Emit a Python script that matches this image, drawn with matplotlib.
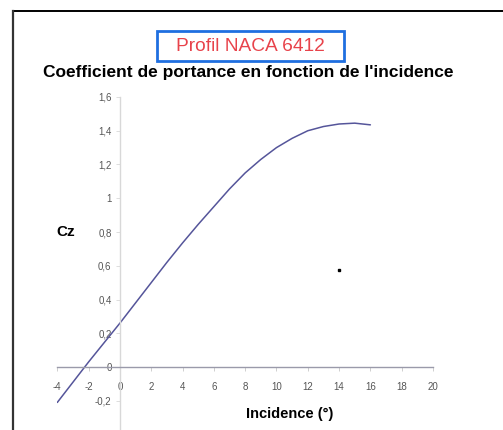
import matplotlib
matplotlib.use("Agg")
import matplotlib.pyplot as plt
from matplotlib.lines import Line2D
from matplotlib.patches import Rectangle

# Data
incidence = [-4, -3, -2, -1, 0, 1, 2, 3, 4, 5, 6, 7, 8, 9, 10, 11, 12, 13, 14, 15, 16]
cz = [-0.21, -0.09, 0.03, 0.145, 0.26, 0.38, 0.50, 0.62, 0.735, 0.845, 0.95,
      1.055, 1.15, 1.23, 1.30, 1.355, 1.40, 1.425, 1.44, 1.445, 1.435]
stray_x = [14.0]
stray_y = [0.575]
x_ticks = [-4, -2, 0, 2, 4, 6, 8, 10, 12, 14, 16, 18, 20]
y_ticks = [-0.2, 0, 0.2, 0.4, 0.6, 0.8, 1.0, 1.2, 1.4, 1.6]
y_tick_labels = ["-0,2", "0", "0,2", "0,4", "0,6", "0,8", "1", "1,2", "1,4", "1,6"]

plt.rcParams['font.family'] = ['Liberation Sans', 'DejaVu Sans']

W, H = 503, 430
fig = plt.figure(figsize=(W / 100, H / 100), dpi=100)
fig.patch.set_facecolor('white')

# Outer frame (top and left edges)
fig.add_artist(Line2D([13 / W, 1.0], [1 - 10.5 / H, 1 - 10.5 / H], transform=fig.transFigure,
                      color='black', lw=1.4))
fig.add_artist(Line2D([13 / W, 13 / W], [0, 1 - 10.5 / H], transform=fig.transFigure,
                      color='#333333', lw=1.6))

# Axes placed so that x=-4..20 spans px 57..433 and y=-0.4..1.6 spans px 434..97
left, right = 57.3 / W, 433 / W
top, bottom = 1 - 97 / H, 1 - 434.5 / H
ax = fig.add_axes([left, bottom, right - left, top - bottom])
ax.set_facecolor('none')
ax.set_xlim(-4, 20)
ax.set_ylim(-0.4, 1.6)

ax.plot(incidence, cz, color='#55559a', lw=1.1, solid_capstyle='round')
ax.plot(stray_x, stray_y, linestyle='none', marker='s', markersize=1.8, color='black')

for s in ['top', 'right']:
    ax.spines[s].set_visible(False)
ax.spines['left'].set_position(('data', 0))
ax.spines['bottom'].set_position(('data', 0))
ax.spines['left'].set_color('#d8d8d8')
ax.spines['bottom'].set_color('#9a9aaa')
ax.spines['left'].set_linewidth(1.0)
ax.spines['bottom'].set_linewidth(1.0)

ax.set_xticks(x_ticks)
ax.set_xticklabels([str(t) for t in x_ticks])
ax.set_yticks(y_ticks)
ax.set_yticklabels(y_tick_labels)
ax.tick_params(axis='x', direction='out', length=3, width=0.7, color='#cfcfcf',
               labelsize=7, labelcolor='#555555', pad=8)
ax.tick_params(axis='y', direction='out', length=3, width=0.7, color='#dddddd',
               labelsize=7, labelcolor='#555555', pad=3)

# Axis labels as text
fig.text(66 / W, 1 - 232 / H, "Cz", fontsize=11, fontweight='bold', ha='center', va='center')
fig.text(290 / W, 1 - 414 / H, "Incidence (°)", fontsize=10.5, fontweight='bold',
         ha='center', va='center')

# Title
fig.text(248 / W, 1 - 72 / H, "Coefficient de portance en fonction de l'incidence",
         fontsize=12.5, fontweight='bold', ha='center', va='center')

# Boxed subtitle
fig.add_artist(Rectangle((157 / W, 1 - 61 / H), 187 / W, 30 / H, transform=fig.transFigure,
                         facecolor='white', edgecolor='#1f6fe0', lw=2))
fig.text(250.5 / W, 1 - 46.5 / H, "Profil NACA 6412", fontsize=13.8, color='#e8434b',
         ha='center', va='center')

fig.savefig("out.png", dpi=100, facecolor='white')
